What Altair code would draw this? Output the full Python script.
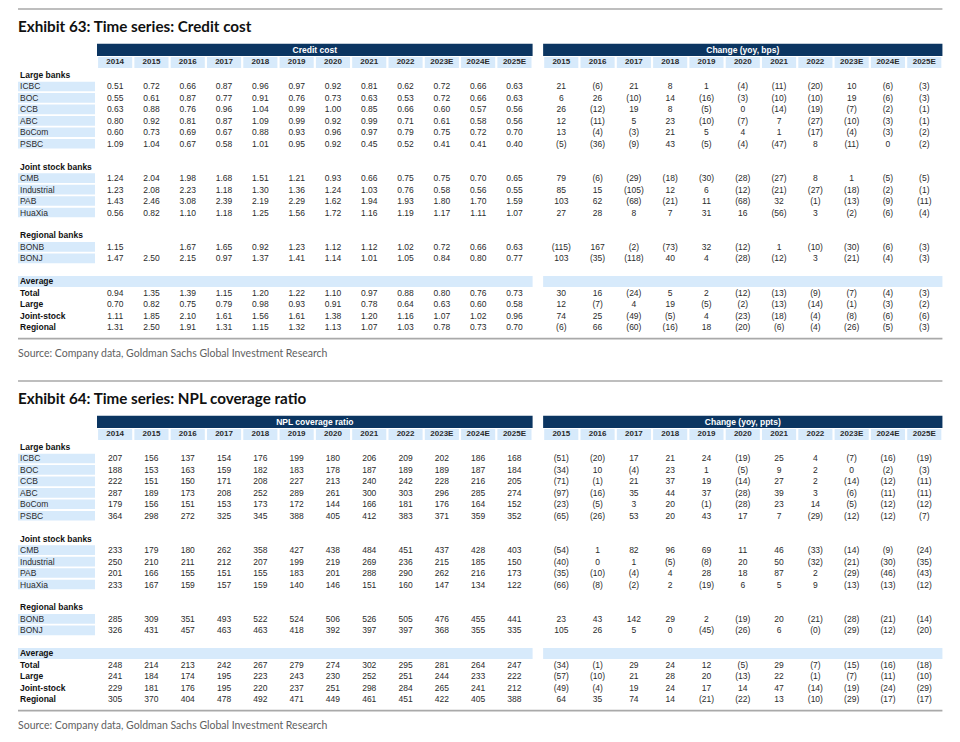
import math
import altair as alt
import pandas as pd

# ---------------- data ----------------
YEARS = ["2014", "2015", "2016", "2017", "2018", "2019", "2020", "2021", "2022", "2023E", "2024E", "2025E"]
CHANGE_YEARS = YEARS[1:]

GROUPS = [
    ("Large banks", ["ICBC", "BOC", "CCB", "ABC", "BoCom", "PSBC"]),
    ("Joint stock banks", ["CMB", "Industrial", "PAB", "HuaXia"]),
    ("Regional banks", ["BONB", "BONJ"]),
]
AVG_HEADER = "Average"
AVG_LABELS = ["Total", "Large", "Joint-stock", "Regional"]

CREDIT_COST = {
    "ICBC": [0.51, 0.72, 0.66, 0.87, 0.96, 0.97, 0.92, 0.81, 0.62, 0.72, 0.66, 0.63],
    "BOC": [0.55, 0.61, 0.87, 0.77, 0.91, 0.76, 0.73, 0.63, 0.53, 0.72, 0.66, 0.63],
    "CCB": [0.63, 0.88, 0.76, 0.96, 1.04, 0.99, 1.00, 0.85, 0.66, 0.60, 0.57, 0.56],
    "ABC": [0.80, 0.92, 0.81, 0.87, 1.09, 0.99, 0.92, 0.99, 0.71, 0.61, 0.58, 0.56],
    "BoCom": [0.60, 0.73, 0.69, 0.67, 0.88, 0.93, 0.96, 0.97, 0.79, 0.75, 0.72, 0.70],
    "PSBC": [1.09, 1.04, 0.67, 0.58, 1.01, 0.95, 0.92, 0.45, 0.52, 0.41, 0.41, 0.40],
    "CMB": [1.24, 2.04, 1.98, 1.68, 1.51, 1.21, 0.93, 0.66, 0.75, 0.75, 0.70, 0.65],
    "Industrial": [1.23, 2.08, 2.23, 1.18, 1.30, 1.36, 1.24, 1.03, 0.76, 0.58, 0.56, 0.55],
    "PAB": [1.43, 2.46, 3.08, 2.39, 2.19, 2.29, 1.62, 1.94, 1.93, 1.80, 1.70, 1.59],
    "HuaXia": [0.56, 0.82, 1.10, 1.18, 1.25, 1.56, 1.72, 1.16, 1.19, 1.17, 1.11, 1.07],
    "BONB": [1.15, None, 1.67, 1.65, 0.92, 1.23, 1.12, 1.12, 1.02, 0.72, 0.66, 0.63],
    "BONJ": [1.47, 2.50, 2.15, 0.97, 1.37, 1.41, 1.14, 1.01, 1.05, 0.84, 0.80, 0.77],
    "Total": [0.94, 1.35, 1.39, 1.15, 1.20, 1.22, 1.10, 0.97, 0.88, 0.80, 0.76, 0.73],
    "Large": [0.70, 0.82, 0.75, 0.79, 0.98, 0.93, 0.91, 0.78, 0.64, 0.63, 0.60, 0.58],
    "Joint-stock": [1.11, 1.85, 2.10, 1.61, 1.56, 1.61, 1.38, 1.20, 1.16, 1.07, 1.02, 0.96],
    "Regional": [1.31, 2.50, 1.91, 1.31, 1.15, 1.32, 1.13, 1.07, 1.03, 0.78, 0.73, 0.70],
}

CREDIT_COST_CHANGE = {
    "ICBC": [21, -6, 21, 8, 1, -4, -11, -20, 10, -6, -3],
    "BOC": [6, 26, -10, 14, -16, -3, -10, -10, 19, -6, -3],
    "CCB": [26, -12, 19, 8, -5, 0, -14, -19, -7, -2, -1],
    "ABC": [12, -11, 5, 23, -10, -7, 7, -27, -10, -3, -1],
    "BoCom": [13, -4, -3, 21, 5, 4, 1, -17, -4, -3, -2],
    "PSBC": [-5, -36, -9, 43, -5, -4, -47, 8, -11, 0, -2],
    "CMB": [79, -6, -29, -18, -30, -28, -27, 8, 1, -5, -5],
    "Industrial": [85, 15, -105, 12, 6, -12, -21, -27, -18, -2, -1],
    "PAB": [103, 62, -68, -21, 11, -68, 32, -1, -13, -9, -11],
    "HuaXia": [27, 28, 8, 7, 31, 16, -56, 3, -2, -6, -4],
    "BONB": [-115, 167, -2, -73, 32, -12, 1, -10, -30, -6, -3],
    "BONJ": [103, -35, -118, 40, 4, -28, -12, 3, -21, -4, -3],
    "Total": [30, 16, -24, 5, 2, -12, -13, -9, -7, -4, -3],
    "Large": [12, -7, 4, 19, -5, -2, -13, -14, -1, -3, -2],
    "Joint-stock": [74, 25, -49, -5, 4, -23, -18, -4, -8, -6, -6],
    "Regional": [-6, 66, -60, -16, 18, -20, -6, -4, -26, -5, -3],
}

NPL_COVERAGE = {
    "ICBC": [207, 156, 137, 154, 176, 199, 180, 206, 209, 202, 186, 168],
    "BOC": [188, 153, 163, 159, 182, 183, 178, 187, 189, 189, 187, 184],
    "CCB": [222, 151, 150, 171, 208, 227, 213, 240, 242, 228, 216, 205],
    "ABC": [287, 189, 173, 208, 252, 289, 261, 300, 303, 296, 285, 274],
    "BoCom": [179, 156, 151, 153, 173, 172, 144, 166, 181, 176, 164, 152],
    "PSBC": [364, 298, 272, 325, 345, 388, 405, 412, 383, 371, 359, 352],
    "CMB": [233, 179, 180, 262, 358, 427, 438, 484, 451, 437, 428, 403],
    "Industrial": [250, 210, 211, 212, 207, 199, 219, 269, 236, 215, 185, 150],
    "PAB": [201, 166, 155, 151, 155, 183, 201, 288, 290, 262, 216, 173],
    "HuaXia": [233, 167, 159, 157, 159, 140, 146, 151, 160, 147, 134, 122],
    "BONB": [285, 309, 351, 493, 522, 524, 506, 526, 505, 476, 455, 441],
    "BONJ": [326, 431, 457, 463, 463, 418, 392, 397, 397, 368, 355, 335],
    "Total": [248, 214, 213, 242, 267, 279, 274, 302, 295, 281, 264, 247],
    "Large": [241, 184, 174, 195, 223, 243, 230, 252, 251, 244, 233, 222],
    "Joint-stock": [229, 181, 176, 195, 220, 237, 251, 298, 284, 265, 241, 212],
    "Regional": [305, 370, 404, 478, 492, 471, 449, 461, 451, 422, 405, 388],
}

NPL_COVERAGE_CHANGE = {
    "ICBC": [-51, -20, 17, 21, 24, -19, 25, 4, -7, -16, -19],
    "BOC": [-34, 10, -4, 23, 1, -5, 9, 2, 0, -2, -3],
    "CCB": [-71, -1, 21, 37, 19, -14, 27, 2, -14, -12, -11],
    "ABC": [-97, -16, 35, 44, 37, -28, 39, 3, -6, -11, -11],
    "BoCom": [-23, -5, 3, 20, -1, -28, 23, 14, -5, -12, -12],
    "PSBC": [-65, -26, 53, 20, 43, 17, 7, -29, -12, -12, -7],
    "CMB": [-54, 1, 82, 96, 69, 11, 46, -33, -14, -9, -24],
    "Industrial": [-40, 0, 1, -5, -8, 20, 50, -32, -21, -30, -35],
    "PAB": [-35, -10, -4, 4, 28, 18, 87, 2, -29, -46, -43],
    "HuaXia": [-66, -8, -2, 2, -19, 6, 5, 9, -13, -13, -12],
    "BONB": [23, 43, 142, 29, 2, -19, 20, -21, -28, -21, -14],
    "BONJ": [105, 26, 5, 0, -45, -26, 6, -0.0, -29, -12, -20],
    "Total": [-34, -1, 29, 24, 12, -5, 29, -7, -15, -16, -18],
    "Large": [-57, -10, 21, 28, 20, -13, 22, -1, -7, -11, -10],
    "Joint-stock": [-49, -4, 19, 24, 17, 14, 47, -14, -19, -24, -29],
    "Regional": [64, 35, 74, 14, -21, -22, 13, -10, -29, -17, -17],
}

EXHIBITS = [
    dict(title="Exhibit 63: Time series: Credit cost", left="Credit cost",
         right="Change (yoy, bps)", levels=CREDIT_COST, changes=CREDIT_COST_CHANGE, decimals=2),
    dict(title="Exhibit 64: Time series: NPL coverage ratio", left="NPL coverage ratio",
         right="Change (yoy, ppts)", levels=NPL_COVERAGE, changes=NPL_COVERAGE_CHANGE, decimals=0),
]
SOURCE = "Source: Company data, Goldman Sachs Global Investment Research"

# ---------------- layout (table units: 1 column, 1 row) ----------------
W, H = 944, 726
COL_PX, X0_PX = 36.3, 89.0
ROW_PX, Y0_PX = 11.46, 67.0
XMIN, XMAX = -X0_PX / COL_PX, (W - X0_PX) / COL_PX
YMIN, YMAX = -Y0_PX / ROW_PX, (H - Y0_PX) / ROW_PX
BLOCK_STEP = 372.0 / ROW_PX
LEFT_EDGE = -2.176
LABEL_END = -0.055
LABEL_TEXT_X = -2.12
RIGHT0 = 12.29
RIGHT_END = RIGHT0 + len(CHANGE_YEARS)
ROW_TOP_LINE = -5.76
ROW_TITLE = -4.2
BAR_TOP, BAR_BOT = -2.72, -1.66
YEAR_TOP, YEAR_BOT = -1.57, -0.62
CELL_HALF = 0.42
GAP = 0.03

NAVY = "#0b3561"
LIGHT = "#d7eafb"
TEXT = "#2b2b2b"
TABLE_FONT = "Liberation Sans, Arial, Helvetica, sans-serif"
TITLE_FONT = "Lato, Roboto, sans-serif"


def fmt_level(v, d):
    if v is None:
        return ""
    return f"{v:.{d}f}"


def fmt_change(v):
    if v is None:
        return ""
    if v < 0 or (v == 0 and math.copysign(1, v) < 0):
        return f"({abs(v):.0f})"
    return f"{v:.0f}"


lines, bars, bar_text, ycells, ytext = [], [], [], [], []
lcells, ltext, btext, values, titles, sources, bands = [], [], [], [], [], [], []

for k, ex in enumerate(EXHIBITS):
    off = k * BLOCK_STEP
    lines.append(dict(x=LEFT_EDGE, x2=RIGHT_END, y=off + ROW_TOP_LINE))
    titles.append(dict(x=LEFT_EDGE, y=off + ROW_TITLE, text=ex["title"]))
    # header bars
    bars.append(dict(x=0, x2=len(YEARS), y=off + BAR_TOP, y2=off + BAR_BOT))
    bars.append(dict(x=RIGHT0, x2=RIGHT_END, y=off + BAR_TOP, y2=off + BAR_BOT))
    bar_text.append(dict(x=len(YEARS) / 2, y=off + (BAR_TOP + BAR_BOT) / 2, text=ex["left"]))
    bar_text.append(dict(x=RIGHT0 + len(CHANGE_YEARS) / 2, y=off + (BAR_TOP + BAR_BOT) / 2, text=ex["right"]))
    for i, yr in enumerate(YEARS):
        ycells.append(dict(x=i + GAP, x2=i + 1 - GAP, y=off + YEAR_TOP, y2=off + YEAR_BOT))
        ytext.append(dict(x=i + 0.5, y=off + (YEAR_TOP + YEAR_BOT) / 2, text=yr))
    for j, yr in enumerate(CHANGE_YEARS):
        ycells.append(dict(x=RIGHT0 + j + GAP, x2=RIGHT0 + j + 1 - GAP, y=off + YEAR_TOP, y2=off + YEAR_BOT))
        ytext.append(dict(x=RIGHT0 + j + 0.5, y=off + (YEAR_TOP + YEAR_BOT) / 2, text=yr))

    def add_values(name, r):
        for i, v in enumerate(ex["levels"][name]):
            values.append(dict(x=i + 0.5, y=off + r, text=fmt_level(v, ex["decimals"])))
        for j, v in enumerate(ex["changes"][name]):
            values.append(dict(x=RIGHT0 + j + 0.5, y=off + r, text=fmt_change(v)))

    r = 0
    for gname, banks in GROUPS:
        btext.append(dict(x=LABEL_TEXT_X, y=off + r, text=gname))
        r += 1
        for b in banks:
            lcells.append(dict(x=LEFT_EDGE, x2=LABEL_END, y=off + r - CELL_HALF, y2=off + r + CELL_HALF))
            ltext.append(dict(x=LABEL_TEXT_X, y=off + r, text=b))
            add_values(b, r)
            r += 1
        r += 1
    bands.append(dict(x=LEFT_EDGE, x2=len(YEARS), y=off + r - 0.45, y2=off + r + 0.5))
    bands.append(dict(x=RIGHT0, x2=RIGHT_END, y=off + r - 0.45, y2=off + r + 0.5))
    btext.append(dict(x=LABEL_TEXT_X, y=off + r, text=AVG_HEADER))
    r += 1
    for a in AVG_LABELS:
        btext.append(dict(x=LABEL_TEXT_X, y=off + r, text=a))
        add_values(a, r)
        r += 1
    lines.append(dict(x=LEFT_EDGE, x2=RIGHT_END, y=off + r))
    sources.append(dict(x=LEFT_EDGE, y=off + r + 1.36, text=SOURCE))

xs = alt.Scale(domain=[XMIN, XMAX], nice=False, zero=False)
ys = alt.Scale(domain=[YMIN, YMAX], nice=False, zero=False, reverse=True)


def X(f="x"):
    return alt.X(f"{f}:Q", scale=xs, axis=None)


def Y(f="y"):
    return alt.Y(f"{f}:Q", scale=ys, axis=None)


def rects(rows, color):
    return alt.Chart(pd.DataFrame(rows)).mark_rect(color=color).encode(
        x=X(), x2="x2:Q", y=Y(), y2="y2:Q")


def texts(rows, **kw):
    return alt.Chart(pd.DataFrame(rows)).mark_text(baseline="middle", **kw).encode(
        x=X(), y=Y(), text="text:N")


layers = [
    alt.Chart(pd.DataFrame(lines)).mark_rule(color="#a9a9a9", strokeWidth=1.6).encode(
        x=X(), x2="x2:Q", y=Y()),
    rects(bars, NAVY),
    rects(ycells, LIGHT),
    rects(lcells, LIGHT),
    rects(bands, LIGHT),
    texts(bar_text, align="center", font=TABLE_FONT, fontSize=8.5, fontWeight="bold", color="white"),
    texts(ytext, align="center", font=TABLE_FONT, fontSize=8, fontWeight="bold", color=TEXT),
    texts(ltext, align="left", font=TABLE_FONT, fontSize=8.5, color=TEXT),
    texts(btext, align="left", font=TABLE_FONT, fontSize=8.5, fontWeight="bold", color="#111111"),
    texts(values, align="center", font=TABLE_FONT, fontSize=8.5, color=TEXT),
    texts(titles, align="left", font=TITLE_FONT, fontSize=15.2, fontWeight="bold", color="#111111"),
    texts(sources, align="left", font=TITLE_FONT, fontSize=10.5, color="#5f5f5f"),
]

chart = alt.layer(*layers).properties(
    width=W, height=H,
    autosize=alt.AutoSizeParams(type="none"),
    padding=0,
    background="white",
).configure_view(stroke=None)

chart.save("out.html", embed_options={"renderer": "svg", "actions": False})
